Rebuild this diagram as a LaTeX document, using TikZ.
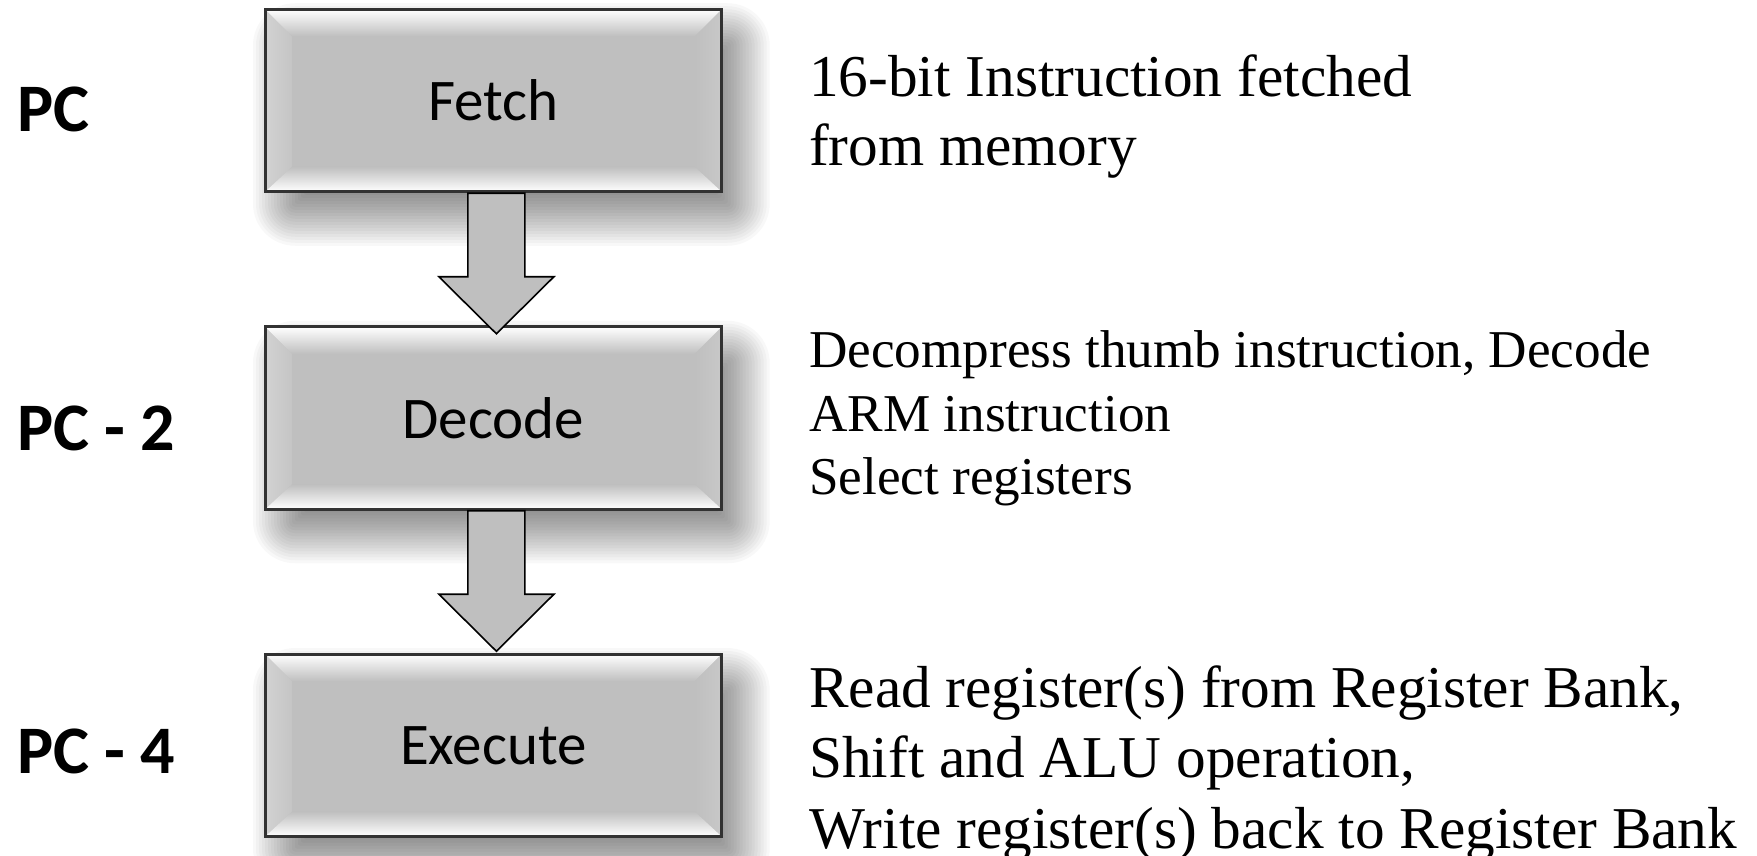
\documentclass[tikz,border=0pt]{standalone}
\usepackage{fontspec}
\setmainfont{Liberation Serif}
\newfontfamily\calibrifont{Carlito}
\usetikzlibrary{calc}

\definecolor{face}{RGB}{191,191,191}
\definecolor{rim}{RGB}{50,50,50}
\definecolor{bevleft}{RGB}{210,210,210}
\definecolor{bevright}{RGB}{200,200,200}

\tikzset{
  stage/.style={rectangle, minimum width=456.5pt, minimum height=182.5pt,
    inner sep=0pt, fill=face, draw=rim, line width=3pt,
    font=\calibrifont\fontsize{59}{60}\selectfont,
    path picture={
      \coordinate (nw) at (path picture bounding box.north west);
      \coordinate (ne) at (path picture bounding box.north east);
      \coordinate (sw) at (path picture bounding box.south west);
      \coordinate (se) at (path picture bounding box.south east);
      \shade[left color=bevleft, right color=face!70!bevleft]
        (nw) -- ($(nw)+(27,27)$) -- ($(sw)+(27,-25)$) -- (sw) -- cycle;
      \shade[right color=bevright, left color=face]
        (ne) -- ($(ne)+(-27,27)$) -- ($(se)+(-27,-25)$) -- (se) -- cycle;
      \shade[top color=white, middle color=white!50!face, bottom color=face]
        (nw) -- (ne) -- ($(ne)+(-27,27)$) -- ($(nw)+(27,27)$) -- cycle;
      \shade[bottom color=white, middle color=white!45!face, top color=face]
        (sw) -- (se) -- ($(se)+(-27,-25)$) -- ($(sw)+(27,-25)$) -- cycle;
    }},
  pclabel/.style={anchor=base west, inner sep=0pt,
    font=\calibrifont\bfseries\fontsize{68}{68}\selectfont},
  desc/.style={anchor=base west, inner sep=0pt, font=\fontsize{59.3}{70}\selectfont},
  descsmall/.style={anchor=base west, inner sep=0pt, font=\fontsize{53.2}{63}\selectfont},
  blockarrow/.style={fill=face, draw=black, line width=1.6pt, line join=miter},
}

\begin{document}
\begin{tikzpicture}[x=1pt,y=-1pt]
\useasboundingbox (0,0) rectangle (1757,856);
\fill[white] (0,0) rectangle (1757,856);

% soft drop shadows below and right of the three stages
\foreach \cy in {100.5,418,745.3}{
  \foreach \k in {0,...,19}{
    \pgfmathsetmacro\e{30-3*\k}
    \pgfmathsetmacro\rc{max(\e+12,2)}
    \fill[black, opacity=0.026, rounded corners=\rc pt]
      (265+18-\e, \cy-91.25+24-\e) rectangle (721.7+18+\e, \cy+91.25+24+\e);
  }
}

% pipeline stages
\node[stage] (fetch)   at (493.4,100.5) {Fetch};
\node[stage] (decode)  at (493.4,418)   {Decode};
\node[stage] (execute) at (493.4,745.3) {Execute};

% block arrows between stages
\draw[blockarrow]
  ($(fetch.south)+(-25.5,0)$) -- ($(fetch.south)+(-25.5,83.5)$)
  -- ($(fetch.south)+(-54.5,83.5)$) -- ($(fetch.south)+(3,140.5)$)
  -- ($(fetch.south)+(60.5,83.5)$) -- ($(fetch.south)+(31.5,83.5)$)
  -- ($(fetch.south)+(31.5,0)$) -- cycle;
\draw[blockarrow]
  ($(decode.south)+(-25.5,0)$) -- ($(decode.south)+(-25.5,83.5)$)
  -- ($(decode.south)+(-54.5,83.5)$) -- ($(decode.south)+(3,140.5)$)
  -- ($(decode.south)+(60.5,83.5)$) -- ($(decode.south)+(31.5,83.5)$)
  -- ($(decode.south)+(31.5,0)$) -- cycle;

% program counter labels
\node[pclabel] (pc0) at (16.8,132)   {PC};
\node[pclabel] (pc2) at (16.8,450.5) {PC - 2};
\node[pclabel] (pc4) at (16.8,773)   {PC - 4};

% stage descriptions
\node[desc] (f1) at (809,96.4)  {16-bit Instruction fetched};
\node[desc] (f2) at (809,165.8) {from memory};

\node[descsmall] (d1) at (809,367.5) {Decompress thumb instruction, Decode};
\node[descsmall] (d2) at (809,431.4) {ARM instruction};
\node[descsmall] (d3) at (809,494.2) {Select registers};

\node[desc] (e1) at (809,707)   {Read register(s) from Register Bank,};
\node[desc] (e2) at (809,777.7) {Shift and ALU operation,};
\node[desc] (e3) at (809,848.3) {Write register(s) back to Register Bank};
\end{tikzpicture}
\end{document}
